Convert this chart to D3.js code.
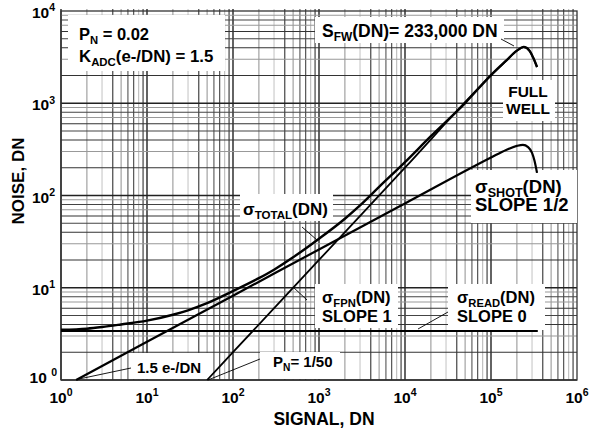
<!DOCTYPE html>
<html>
<head>
<meta charset="utf-8">
<script src="https://cdn.jsdelivr.net/npm/d3@7/dist/d3.min.js"></script>
<style>
  body { margin: 0; background: #fff; }
  svg { display: block; font-family: "Liberation Sans", Arial, Helvetica, sans-serif; font-weight: bold; }
</style>
</head>
<body>
<div id="chart"></div>
<script>
// Photon transfer curve
const xExponents = [0, 1, 2, 3, 4, 5, 6];
const yExponents = [0, 1, 2, 3, 4];

const readSignal = [1, 3.5e5];
const readNoise = [3.4, 3.4];

const shotSignal = [1.5, 10, 100, 1000, 1e4, 1e5, 1.5e5, 2e5, 2.35e5, 2.7e5, 3.0e5, 3.2e5, 3.43e5];
const shotNoise = [1, 2.6, 8.2, 26, 82, 258, 312, 345, 354, 335, 290, 240, 176];

const fpnSignal = [50, 100, 1000, 1e4, 1e5, 1.5e5, 2e5, 2.4e5, 2.8e5, 3.1e5, 3.43e5];
const fpnNoise = [1, 2, 20, 200, 2000, 2880, 3700, 4050, 3700, 3100, 2460];

const totalSignal = [1, 2, 3, 5, 10, 20, 30, 50, 100, 200, 300, 500, 1000, 2000, 3000, 5000, 1e4, 2e4, 5e4, 1e5, 1.5e5, 2e5, 2.4e5, 2.8e5, 3.1e5, 3.43e5];
const totalNoise = [3.5, 3.6, 3.75, 4.0, 4.4, 5.1, 5.7, 6.8, 9.2, 12.7, 15.7, 21.4, 34, 56, 78, 124, 230, 440, 1005, 2020, 2900, 3720, 4080, 3720, 3110, 2470];

const width = 590, height = 433;
const margin = { left: 61, right: 13, top: 11, bottom: 53 };

const svg = d3.select('#chart').append('svg')
    .attr('width', width)
    .attr('height', height);

const x = d3.scaleLog().domain([1, 1e6]).range([margin.left, width - margin.right]);
const y = d3.scaleLog().domain([1, 1e4]).range([height - margin.bottom, margin.top]);

// grid: shades vary like the scanned original
const xShade = ['#222', '#999', '#c8c8c8', '#333', '#999', '#555', '#444', '#bbb', '#333'];
const yShade = ['#222', '#333', '#999', '#333', '#444', '#333', '#999', '#444', '#999'];

const grid = svg.append('g');
const xGrid = [];
const yGrid = [];
for (let e = 0; e < 6; e++) for (let m = 1; m <= 9; m++) xGrid.push({ v: m * Math.pow(10, e), m });
for (let e = 0; e < 4; e++) for (let m = 1; m <= 9; m++) yGrid.push({ v: m * Math.pow(10, e), m });

grid.selectAll('line.vx').data(xGrid).join('line')
    .attr('x1', d => x(d.v)).attr('x2', d => x(d.v))
    .attr('y1', y(1)).attr('y2', y(1e4) - 2)
    .attr('stroke', d => xShade[d.m - 1])
    .attr('stroke-width', d => d.m === 1 ? 1.4 : 1.1);

grid.selectAll('line.hy').data(yGrid).join('line')
    .attr('y1', d => y(d.v)).attr('y2', d => y(d.v))
    .attr('x1', x(1)).attr('x2', x(1e6))
    .attr('stroke', d => yShade[d.m - 1])
    .attr('stroke-width', d => d.m === 1 ? 1.4 : 1.1);

// frame
svg.append('rect')
    .attr('x', x(1)).attr('y', y(1e4))
    .attr('width', x(1e6) - x(1)).attr('height', y(1) - y(1e4))
    .attr('fill', 'none').attr('stroke', '#333').attr('stroke-width', 1.3);

// white label boxes over the grid
const boxes = [
    [68, 15, 157, 56],
    [315, 17, 189, 26],
    [503, 80, 52, 41],
    [471, 170, 106, 53],
    [240, 194, 93, 27],
    [315, 284, 83, 44],
    [448, 284, 97, 46],
    [132, 353, 76, 26],
    [260, 352, 80, 27]
];
svg.append('g').selectAll('rect').data(boxes).join('rect')
    .attr('x', d => d[0]).attr('y', d => d[1])
    .attr('width', d => d[2]).attr('height', d => d[3])
    .attr('fill', '#fff');

// curves
const line = d3.line()
    .x(d => x(d[0]))
    .y(d => y(d[1]))
    .curve(d3.curveMonotoneX);

const series = [
    { s: readSignal, n: readNoise, w: 2 },
    { s: shotSignal, n: shotNoise, w: 2.2 },
    { s: fpnSignal, n: fpnNoise, w: 1.8 },
    { s: totalSignal, n: totalNoise, w: 2.4 }
];
svg.append('g').selectAll('path').data(series).join('path')
    .attr('d', d => line(d.s.map((v, i) => [v, d.n[i]])))
    .attr('fill', 'none')
    .attr('stroke', '#000')
    .attr('stroke-width', d => d.w)
    .attr('stroke-linejoin', 'round');

// leader lines
const leaders = [
    [501, 39, 514, 46],
    [302, 227, 317, 240],
    [293, 287, 307, 300],
    [418, 329, 448, 312],
    [79, 379, 131, 368],
    [208, 380, 260, 359]
];
svg.append('g').selectAll('line').data(leaders).join('line')
    .attr('x1', d => d[0]).attr('y1', d => d[1])
    .attr('x2', d => d[2]).attr('y2', d => d[3])
    .attr('stroke', '#000').attr('stroke-width', 0.9);

// text with sub/superscripts
function rich(x0, y0, parts, size, anchor) {
    const t = svg.append('text')
        .attr('x', x0).attr('y', y0)
        .attr('text-anchor', anchor || 'start')
        .style('font-size', size + 'px')
        .attr('fill', '#000');
    let shift = 0;
    parts.forEach(p => {
        if (typeof p === 'string') {
            t.append('tspan').attr('dy', -shift).style('font-size', size + 'px').text(p);
            shift = 0;
        } else {
            const d = p.sub ? size * 0.24 : -size * 0.42;
            t.append('tspan').attr('dy', d - shift).style('font-size', (size * 0.68) + 'px').text(p.sub || p.sup);
            shift = d;
        }
    });
    return t;
}

// annotations
rich(79, 40, ['P', { sub: 'N' }, ' = 0.02'], 16.5);
rich(79, 62, ['K', { sub: 'ADC' }, '(e-/DN) = 1.5'], 16.8);
rich(322, 37, ['S', { sub: 'FW' }, '(DN)= 233,000 DN'], 17.5);
rich(528, 97, ['FULL'], 15.5, 'middle');
rich(528, 114, ['WELL'], 15.5, 'middle');
rich(475, 193, ['σ', { sub: 'SHOT' }, '(DN)'], 18.5);
rich(475, 211, ['SLOPE 1/2'], 18.5);
rich(243, 215, ['σ', { sub: 'TOTAL' }, '(DN)'], 17);
rich(322, 303, ['σ', { sub: 'FPN' }, '(DN)'], 16.5);
rich(322, 322, ['SLOPE 1'], 16.5);
rich(457, 303, ['σ', { sub: 'READ' }, '(DN)'], 16.5);
rich(457, 322, ['SLOPE 0'], 16.5);
rich(137, 373, ['1.5 e-/DN'], 15);
rich(273, 367, ['P', { sub: 'N' }, '= 1/50'], 15);

// tick labels
xExponents.forEach(e => {
    rich(x(Math.pow(10, e)), 403, ['10', { sup: String(e) }], 15.5, 'middle');
});
yExponents.forEach(e => {
    if (e === 0) {
        rich(57, y(1) + 3, ['10 ', { sup: '0' }], 15.5, 'end');
    } else {
        rich(55, y(Math.pow(10, e)) + 7, ['10', { sup: String(e) }], 15.5, 'end');
    }
});

// axis titles
svg.append('text')
    .attr('x', 324).attr('y', 425)
    .attr('text-anchor', 'middle')
    .style('font-size', '17.5px')
    .text('SIGNAL, DN');

svg.append('text')
    .attr('transform', 'translate(24,181) rotate(-90)')
    .attr('text-anchor', 'middle')
    .style('font-size', '17px')
    .text('NOISE, DN');
</script>
</body>
</html>
